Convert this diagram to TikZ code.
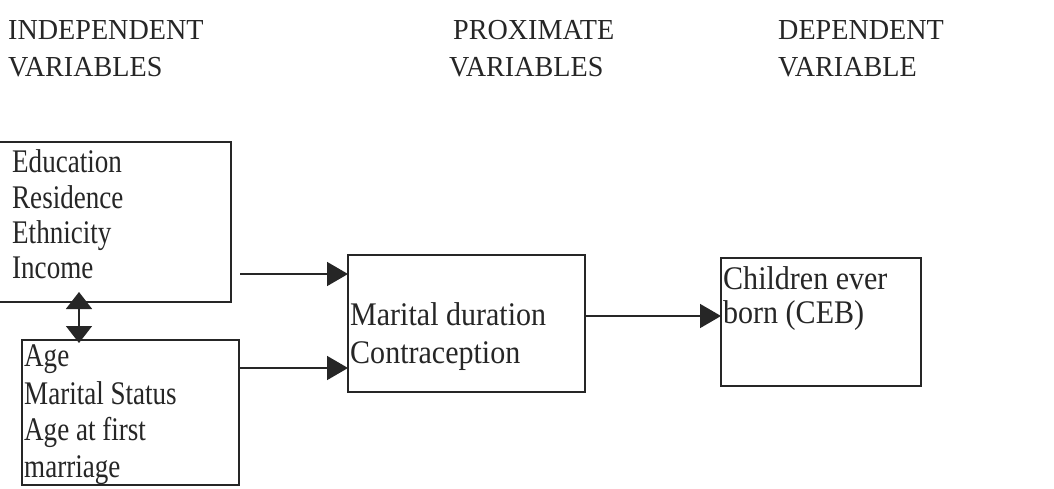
\documentclass[tikz,border=0pt]{standalone}
\usepackage{fontspec}
\setmainfont{Liberation Serif}
\newfontfamily\hdfont[FakeStretch=0.97]{Liberation Serif}
\newfontfamily\lbfont[FakeStretch=0.82]{Liberation Serif}
\newfontfamily\mbfont[FakeStretch=0.91]{Liberation Serif}
\usetikzlibrary{arrows.meta}
\tikzset{
  box/.style={draw=black!85, line width=1.8pt, inner sep=0pt, outer sep=0pt, anchor=north west},
  hd/.style={inner sep=0pt, anchor=base west, font=\hdfont\fontsize{29}{32}\selectfont, text=black!85},
  lt/.style={inner sep=0pt, anchor=base west, font=\lbfont\fontsize{33}{36}\selectfont, text=black!85},
  mt/.style={inner sep=0pt, anchor=base west, font=\mbfont\fontsize{33}{36}\selectfont, text=black!85},
  arr/.style={line width=1.6pt, draw=black!85, -{Triangle[length=21pt,width=24pt]}},
  darr/.style={line width=1.6pt, draw=black!85, {Triangle[length=17pt,width=26pt]}-{Triangle[length=17pt,width=26pt]}},
}
\begin{document}
\begin{tikzpicture}[x=1pt,y=-1pt]
\useasboundingbox[fill=white] (0,0) rectangle (1054,488);
% headers
\node[hd] (h1a) at (8,39) {INDEPENDENT};
\node[hd] (h1b) at (8,76) {VARIABLES};
\node[hd] (h2a) at (453,39) {PROXIMATE};
\node[hd] (h2b) at (449,76) {VARIABLES};
\node[hd] (h3a) at (778,39) {DEPENDENT};
\node[hd] (h3b) at (778,76) {VARIABLE};
% boxes
\node[box, minimum width=236pt, minimum height=160pt] (A) at (-5,142) {};
\node[box, minimum width=217pt, minimum height=145pt] (B) at (22,340) {};
\node[box, minimum width=237pt, minimum height=137pt] (C) at (348,255) {};
\node[box, minimum width=200pt, minimum height=128pt] (D) at (721,258) {};
% box texts
\node[lt] (a1) at (12,172) {Education};
\node[lt] (a2) at (12,208) {Residence};
\node[lt] (a3) at (12,243) {Ethnicity};
\node[lt] (a4) at (12,278) {Income};
\node[lt] (b1) at (24,366) {Age};
\node[lt] (b2) at (24,404) {Marital Status};
\node[lt] (b3) at (24,440) {Age at first};
\node[lt] (b4) at (24,477) {marriage};
\node[mt] (c1) at (350,325) {Marital duration};
\node[mt] (c2) at (350,363) {Contraception};
\node[mt] (d1) at (723,289) {Children ever};
\node[mt] (d2) at (723,323) {born (CEB)};
% connectors
\coordinate (y1) at (0,274);
\coordinate (y2) at (0,368);
\coordinate (y3) at (0,316);
\coordinate (dx) at (79,0);
\draw[arr, shorten <=9pt] (A.east |- y1) -- (C.west |- y1);
\draw[arr] (B.east |- y2) -- (C.west |- y2);
\draw[arr] (C.east |- y3) -- (D.west |- y3);
\draw[darr, shorten <=-10pt, shorten >=-3pt] (A.south -| dx) -- (B.north -| dx);
\end{tikzpicture}
\end{document}
